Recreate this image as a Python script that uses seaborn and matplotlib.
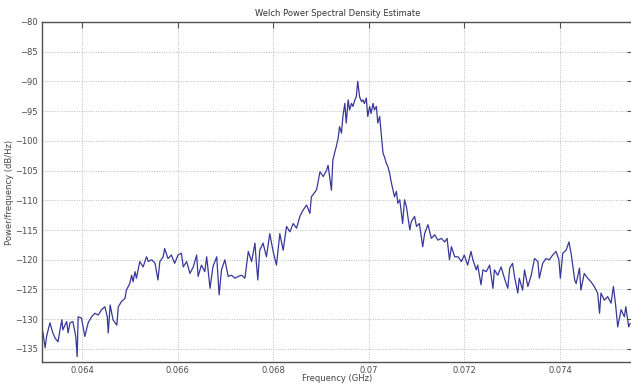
import numpy as np
import pandas as pd
import matplotlib
matplotlib.use("Agg")
import matplotlib.pyplot as plt
import seaborn as sns

# Frequency (GHz) and Welch PSD estimate (dB/Hz)
freq_ghz = [
    0.06316, 0.06318, 0.06323, 0.06326, 0.06333, 0.06339, 0.06344, 0.06350, 0.06354, 0.06358,
    0.06360, 0.06368, 0.06371, 0.06375, 0.06381, 0.06387, 0.06390, 0.06392, 0.06399, 0.06406,
    0.06413, 0.06420, 0.06427, 0.06434, 0.06441, 0.06448, 0.06453, 0.06455, 0.06459, 0.06465,
    0.06473, 0.06476, 0.06483, 0.06490, 0.06493, 0.06500, 0.06504, 0.06507, 0.06511, 0.06514,
    0.06521, 0.06528, 0.06535, 0.06539, 0.06546, 0.06553, 0.06559, 0.06563, 0.06570, 0.06573,
    0.06580, 0.06587, 0.06594, 0.06601, 0.06608, 0.06612, 0.06619, 0.06626, 0.06633, 0.06640,
    0.06643, 0.06650, 0.06657, 0.06661, 0.06668, 0.06674, 0.06682, 0.06687, 0.06692, 0.06699,
    0.06706, 0.06713, 0.06720, 0.06727, 0.06734, 0.06741, 0.06748, 0.06755, 0.06762, 0.06765,
    0.06768, 0.06772, 0.06779, 0.06786, 0.06793, 0.06800, 0.06807, 0.06814, 0.06821, 0.06828,
    0.06835, 0.06842, 0.06849, 0.06856, 0.06863, 0.06870, 0.06877, 0.06880, 0.06884, 0.06891,
    0.06898, 0.06905, 0.06912, 0.06915, 0.06922, 0.06925, 0.06932, 0.06936, 0.06939, 0.06943,
    0.06946, 0.06950, 0.06953, 0.06957, 0.06960, 0.06964, 0.06967, 0.06971, 0.06974, 0.06977,
    0.06981, 0.06985, 0.06988, 0.06991, 0.06995, 0.06998, 0.07002, 0.07005, 0.07009, 0.07012,
    0.07016, 0.07019, 0.07023, 0.07026, 0.07030, 0.07033, 0.07037, 0.07040, 0.07044, 0.07047,
    0.07051, 0.07054, 0.07058, 0.07061, 0.07065, 0.07071, 0.07075, 0.07079, 0.07086, 0.07089,
    0.07096, 0.07100, 0.07106, 0.07113, 0.07117, 0.07124, 0.07131, 0.07138, 0.07145, 0.07152,
    0.07159, 0.07164, 0.07169, 0.07173, 0.07180, 0.07187, 0.07194, 0.07200, 0.07207, 0.07214,
    0.07218, 0.07225, 0.07228, 0.07235, 0.07239, 0.07246, 0.07253, 0.07260, 0.07263, 0.07270,
    0.07277, 0.07284, 0.07291, 0.07295, 0.07301, 0.07305, 0.07312, 0.07315, 0.07322, 0.07326,
    0.07333, 0.07340, 0.07347, 0.07354, 0.07357, 0.07364, 0.07371, 0.07378, 0.07385, 0.07392,
    0.07398, 0.07401, 0.07406, 0.07413, 0.07419, 0.07424, 0.07431, 0.07434, 0.07441, 0.07444,
    0.07451, 0.07458, 0.07465, 0.07472, 0.07479, 0.07483, 0.07486, 0.07493, 0.07500, 0.07507,
    0.07512, 0.07517, 0.07521, 0.07528, 0.07535, 0.07538, 0.07544, 0.07547,
]

psd_db = [
    -132.2, -132.1, -134.8, -132.9, -130.6, -132.3, -133.2, -133.8, -131.8, -130.1,
    -131.8, -130.4, -132.3, -130.6, -130.4, -132.9, -136.3, -129.6, -129.8, -132.9,
    -130.6, -129.6, -129.0, -129.3, -128.4, -127.9, -129.6, -132.3, -127.6, -130.1,
    -131.0, -127.9, -127.0, -126.5, -125.1, -124.0, -122.6, -123.7, -122.0, -123.1,
    -120.3, -121.2, -119.5, -120.3, -120.0, -120.6, -123.4, -120.3, -119.5, -118.1,
    -119.8, -119.2, -120.6, -119.2, -118.9, -121.2, -120.3, -122.3, -121.2, -119.2,
    -122.8, -120.9, -122.0, -119.5, -124.8, -121.2, -119.5, -125.9, -121.7, -120.0,
    -122.8, -122.6, -123.1, -122.8, -122.6, -123.1, -118.6, -120.3, -117.2, -120.6,
    -123.4, -118.4, -117.2, -119.5, -115.6, -118.6, -120.9, -115.6, -118.4, -114.4,
    -115.3, -113.9, -114.7, -112.7, -111.6, -110.8, -112.2, -109.4, -109.0, -108.2,
    -105.2, -106.0, -104.9, -104.1, -108.3, -103.2, -101.0, -99.6, -97.6, -98.7,
    -95.9, -93.7, -97.0, -93.1, -94.8, -93.7, -94.2, -93.1, -92.6, -90.0,
    -92.6, -93.4, -93.1, -93.7, -92.8, -95.9, -94.2, -95.4, -93.7, -94.8,
    -94.2, -97.0, -95.9, -98.7, -102.1, -102.7, -103.8, -104.3, -105.5, -106.9,
    -108.3, -109.4, -108.5, -110.5, -109.9, -113.9, -109.9, -111.1, -115.0, -113.6,
    -112.7, -114.4, -113.9, -117.8, -115.6, -114.1, -116.4, -115.8, -116.7, -116.4,
    -117.0, -116.4, -120.0, -117.8, -119.5, -119.5, -120.3, -119.2, -120.9, -118.6,
    -120.0, -121.7, -120.9, -124.2, -121.7, -122.0, -120.9, -124.8, -121.7, -122.6,
    -121.2, -123.1, -124.8, -121.4, -120.6, -122.8, -125.6, -123.1, -125.1, -121.7,
    -124.5, -122.6, -119.8, -120.3, -123.1, -120.6, -119.8, -120.0, -119.2, -118.6,
    -120.0, -123.1, -118.9, -118.4, -117.0, -119.2, -123.4, -124.0, -121.4, -125.1,
    -122.3, -123.1, -123.7, -124.5, -125.6, -129.0, -125.6, -126.8, -126.2, -127.3,
    -124.5, -127.9, -131.3, -128.4, -129.6, -127.9, -131.3, -130.7,
]

x_ticks = [0.064, 0.066, 0.068, 0.070, 0.072, 0.074]
x_tick_labels = ["0.064", "0.066", "0.068", "0.07", "0.072", "0.074"]
y_ticks = [-80, -85, -90, -95, -100, -105, -110, -115, -120, -125, -130, -135]

df = pd.DataFrame({"freq": freq_ghz, "psd": psd_db})

sns.set_style("white")
plt.rcParams["font.family"] = ["DejaVu Sans"]

fig = plt.figure(figsize=(6.31, 3.85), dpi=100)
ax = fig.add_axes([42 / 631, 23 / 385, 591 / 631, 340 / 385])

sns.lineplot(data=df, x="freq", y="psd", ax=ax, color="#38389a",
             linewidth=0.9, estimator=None, sort=False)

ax.set_xlim(0.063164, 0.07553)
ax.set_ylim(-137.2, -80)
ax.set_xticks(x_ticks)
ax.set_xticklabels(x_tick_labels)
ax.set_yticks(y_ticks)

ax.grid(True, linestyle=(0, (1, 1.5)), color="#bcbcbc", linewidth=0.7)
ax.set_axisbelow(True)

for side in ["left", "bottom", "top", "right"]:
    ax.spines[side].set_visible(True)
    ax.spines[side].set_color("#505050")
    ax.spines[side].set_linewidth(1.0)

ax.tick_params(axis="both", direction="in", length=4, width=0.8,
               colors="#505050", labelcolor="#4a4a4a", labelsize=6,
               top=True, right=True, pad=3)

ax.set_title("Welch Power Spectral Density Estimate", fontsize=6,
             color="#333333", pad=4)
ax.set_xlabel("Frequency (GHz)", fontsize=6, color="#444444")
ax.set_ylabel("Power/frequency (dB/Hz)", fontsize=6, color="#444444")
ax.xaxis.set_label_coords(0.5, -0.036)
ax.yaxis.set_label_coords(-0.047, 0.5)

fig.savefig("out.png", dpi=100)
